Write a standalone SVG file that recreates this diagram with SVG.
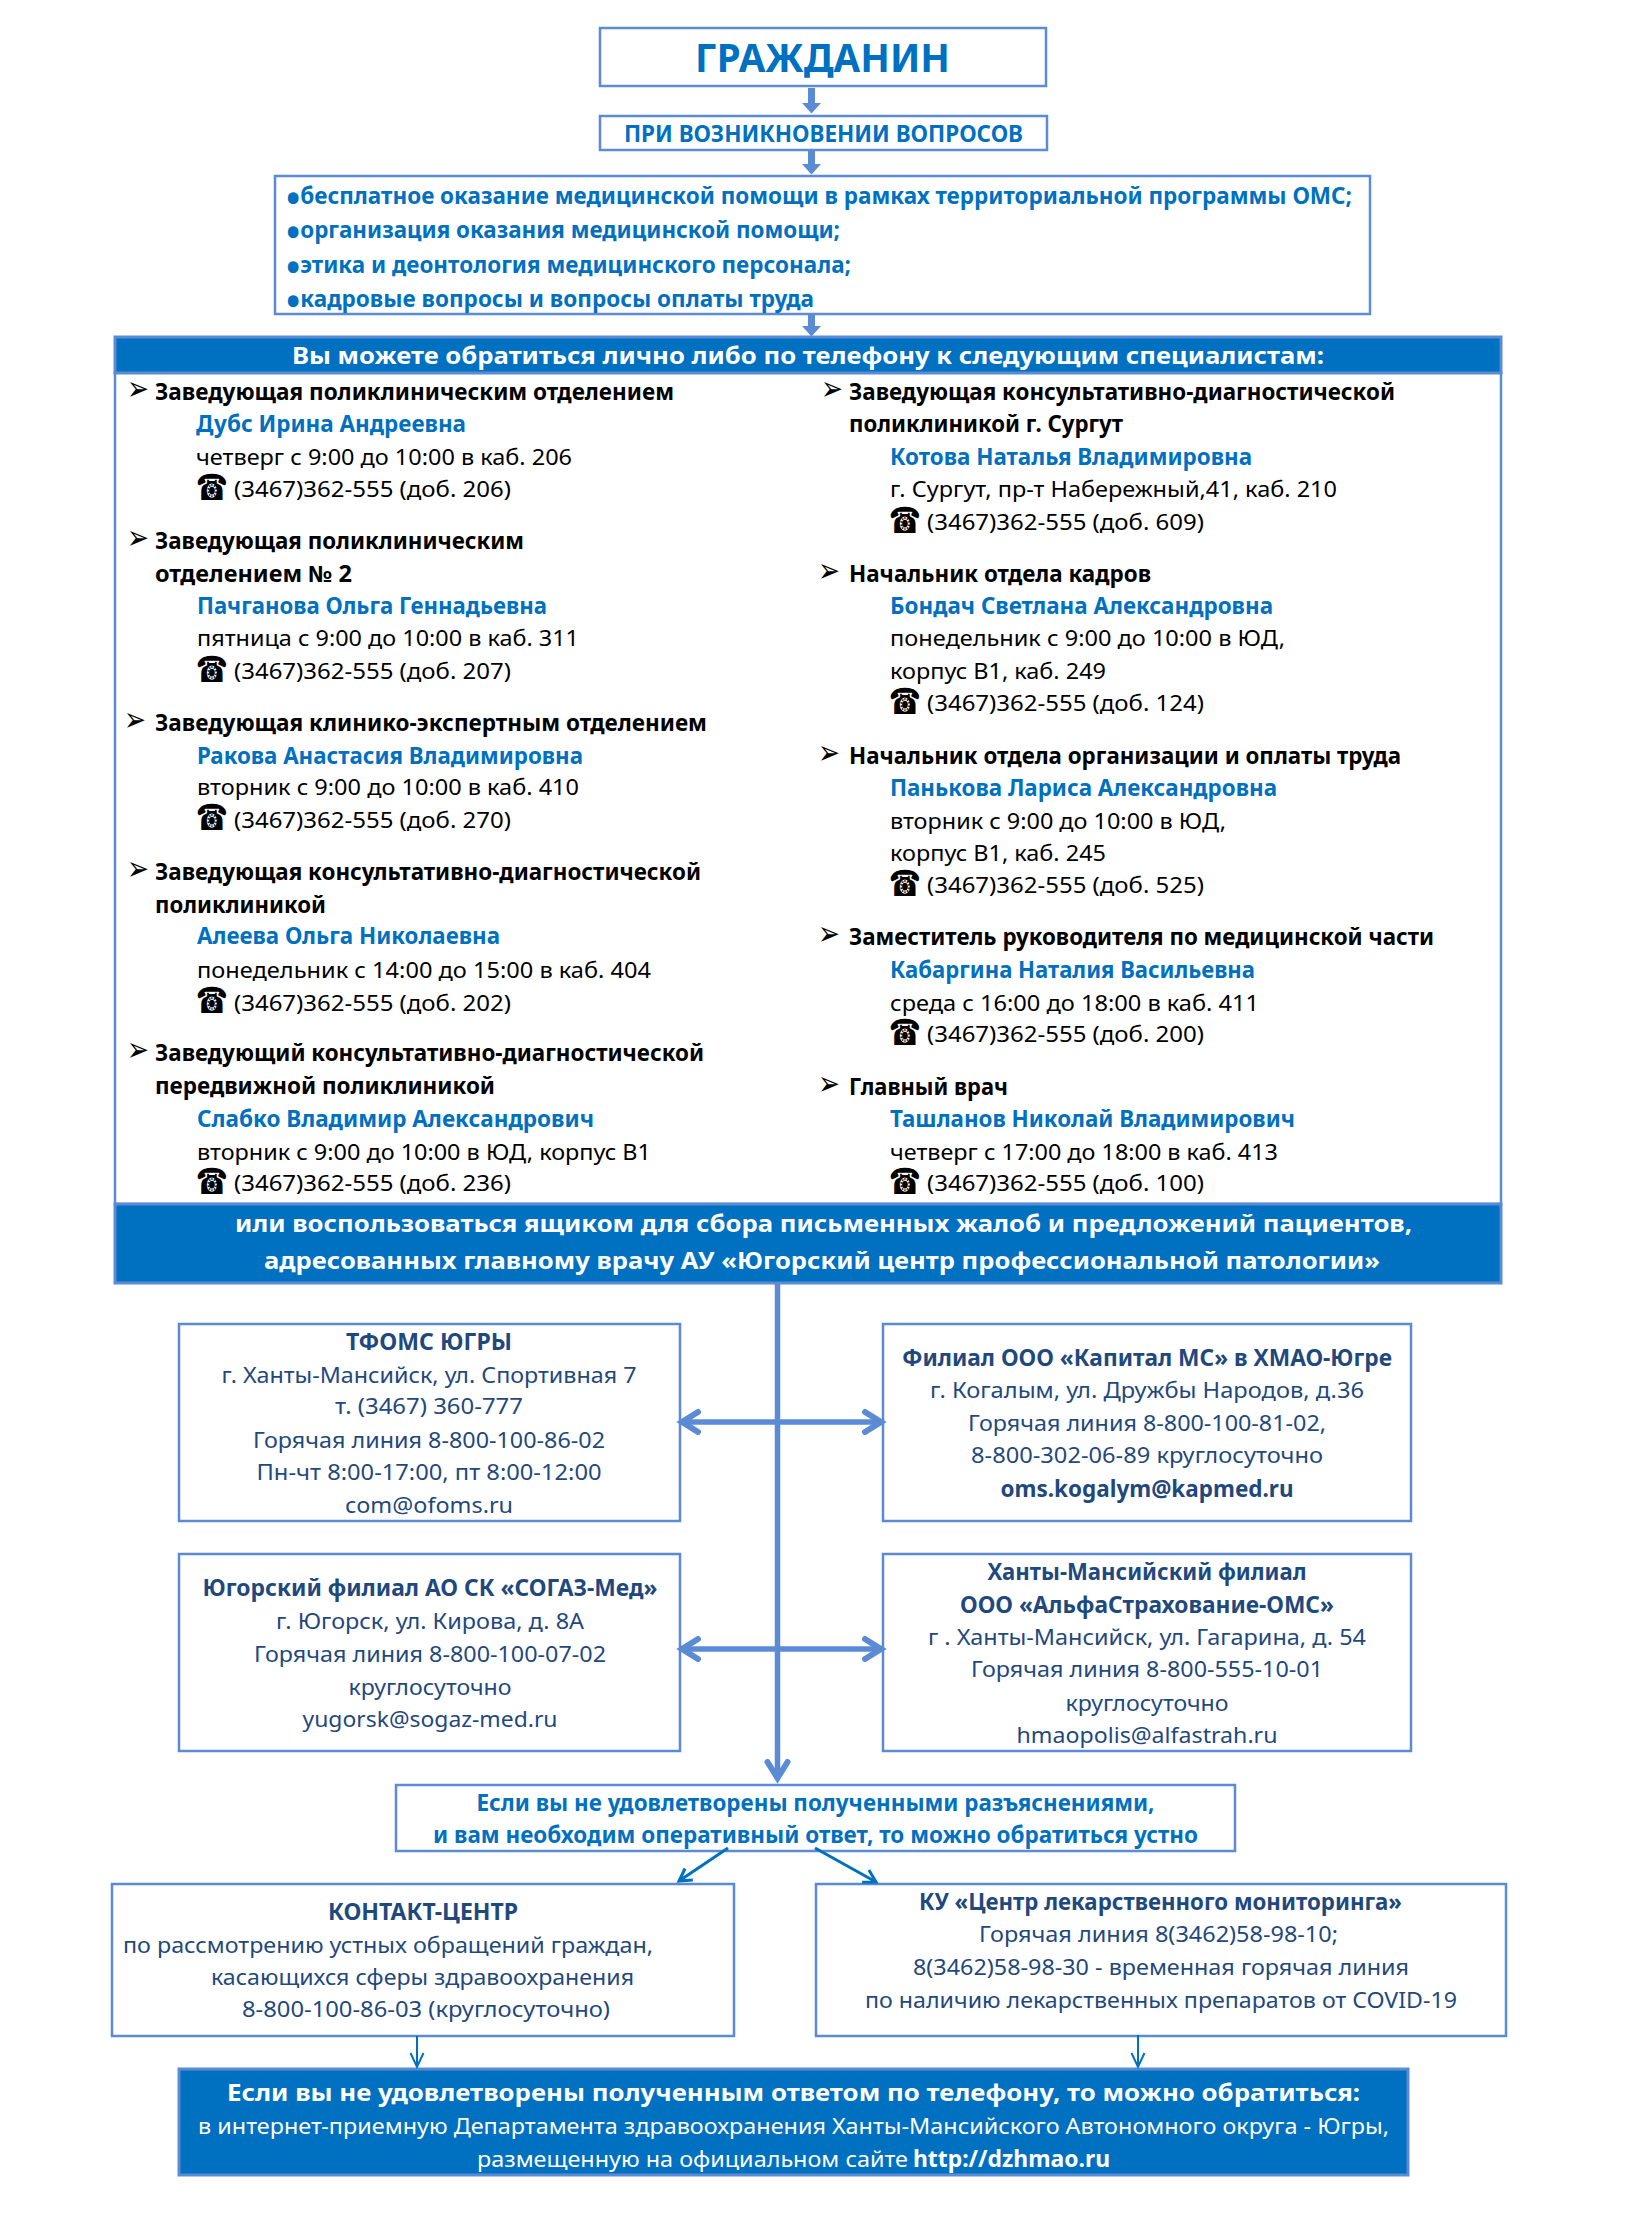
<svg xmlns="http://www.w3.org/2000/svg" width="1648" height="2220" viewBox="0 0 1648 2220">
<style>
text{font-family:"Noto Sans","Liberation Sans",sans-serif;font-size:22.5px}
.box{fill:#fff;stroke:#5B8BD4;stroke-width:2.5}
.fill{fill:#0070C0;stroke:#5B8BD4;stroke-width:3}
.b{fill:#0070C0;font-weight:700}
.h{fill:#000;font-weight:700}
.n{fill:#0070C0;font-weight:700}
.t{fill:#000}
.d{fill:#1F497D}
.db{fill:#1F497D;font-weight:700}
.w{fill:#fff;font-weight:700}
.wr{fill:#fff}
.c{text-anchor:middle}
.ph{font-family:"DejaVu Sans",sans-serif;font-size:36px;fill:#000}
.bu{font-family:"DejaVu Sans",sans-serif;font-size:34px;fill:#000}
.dot{font-size:38px}
.thick{fill:none;stroke:#5B8BD4;stroke-width:7}
.main{fill:none;stroke:#5B8BD4;stroke-width:5.5}
.thin3{fill:none;stroke:#0070C0;stroke-width:3}
.thin2{fill:none;stroke:#0070C0;stroke-width:2}
</style>
<defs>
<marker id="solid" markerUnits="userSpaceOnUse" markerWidth="20" markerHeight="20" viewBox="0 0 11 20" refX="0" refY="10" orient="auto"><path d="M0,0.5 L10.5,10 L0,19.5 z" fill="#5B8BD4"/></marker>
<marker id="chev" markerUnits="userSpaceOnUse" markerWidth="30" markerHeight="32" viewBox="0 0 30 32" refX="20" refY="16" orient="auto-start-reverse" overflow="visible"><path d="M4,6 L20,16 L4,26" fill="none" stroke="#5B8BD4" stroke-width="6" stroke-linecap="round"/></marker>
<marker id="chev3" markerUnits="userSpaceOnUse" markerWidth="20" markerHeight="24" viewBox="0 0 20 24" refX="15" refY="12" orient="auto"><path d="M3,5 L15,12 L3,19" fill="none" stroke="#0070C0" stroke-width="3"/></marker>
<marker id="chev2" markerUnits="userSpaceOnUse" markerWidth="20" markerHeight="24" viewBox="0 0 20 24" refX="16" refY="12" orient="auto"><path d="M2,5.5 L16,12 L2,18.5" fill="none" stroke="#0070C0" stroke-width="2"/></marker>
</defs>

<g id="node-citizen"><rect class="box" x="600" y="28" width="446" height="58"/><text class="b" x="695" y="72" style="font-size:39px" textLength="255" lengthAdjust="spacingAndGlyphs">ГРАЖДАНИН</text></g>
<g id="node-questions"><rect class="box" x="600" y="116" width="447" height="34"/><text class="b" x="624" y="142" textLength="399" lengthAdjust="spacingAndGlyphs">ПРИ ВОЗНИКНОВЕНИИ ВОПРОСОВ</text></g>
<g id="node-topics"><rect class="box" x="275" y="176" width="1095" height="138"/>
<text class="b" x="286" y="204" textLength="1066" lengthAdjust="spacingAndGlyphs"><tspan class="dot" dy="7.5">•</tspan><tspan dy="-7.5">бесплатное оказание медицинской помощи в рамках территориальной программы ОМС;</tspan></text>
<text class="b" x="286" y="238" textLength="554" lengthAdjust="spacingAndGlyphs"><tspan class="dot" dy="7.5">•</tspan><tspan dy="-7.5">организация оказания медицинской помощи;</tspan></text>
<text class="b" x="286" y="273" textLength="565" lengthAdjust="spacingAndGlyphs"><tspan class="dot" dy="7.5">•</tspan><tspan dy="-7.5">этика и деонтология медицинского персонала;</tspan></text>
<text class="b" x="286" y="307" textLength="528" lengthAdjust="spacingAndGlyphs"><tspan class="dot" dy="7.5">•</tspan><tspan dy="-7.5">кадровые вопросы и вопросы оплаты труда</tspan></text></g>

<g id="node-specialists">
<rect class="box" x="115" y="372" width="1386" height="832"/>
<rect class="fill" x="115" y="337" width="1386" height="36"/>
<text class="w" x="292" y="364" style="font-size:24px" textLength="1032" lengthAdjust="spacingAndGlyphs">Вы можете обратиться лично либо по телефону к следующим специалистам:</text>

<text class="bu" x="127" y="400" textLength="22" lengthAdjust="spacingAndGlyphs">➢</text>
<text class="h" x="155" y="400" textLength="519" lengthAdjust="spacingAndGlyphs">Заведующая поликлиническим отделением</text>
<text class="n" x="196" y="432" textLength="270" lengthAdjust="spacingAndGlyphs">Дубс Ирина Андреевна</text>
<text class="t" x="196" y="465" textLength="376" lengthAdjust="spacingAndGlyphs">четверг с 9:00 до 10:00 в каб. 206</text>
<text class="ph" x="196" y="500" textLength="32" lengthAdjust="spacingAndGlyphs">☎</text>
<text class="t" x="234" y="497" textLength="277" lengthAdjust="spacingAndGlyphs">(3467)362-555 (доб. 206)</text>

<text class="bu" x="127" y="549" textLength="22" lengthAdjust="spacingAndGlyphs">➢</text>
<text class="h" x="155" y="549" textLength="369" lengthAdjust="spacingAndGlyphs">Заведующая поликлиническим</text>
<text class="h" x="155" y="582" textLength="197" lengthAdjust="spacingAndGlyphs">отделением № 2</text>
<text class="n" x="197" y="614" textLength="350" lengthAdjust="spacingAndGlyphs">Пачганова Ольга Геннадьевна</text>
<text class="t" x="197" y="646" textLength="382" lengthAdjust="spacingAndGlyphs">пятница с 9:00 до 10:00 в каб. 311</text>
<text class="ph" x="196" y="682" textLength="32" lengthAdjust="spacingAndGlyphs">☎</text>
<text class="t" x="234" y="679" textLength="277" lengthAdjust="spacingAndGlyphs">(3467)362-555 (доб. 207)</text>

<text class="bu" x="124" y="731" textLength="22" lengthAdjust="spacingAndGlyphs">➢</text>
<text class="h" x="155" y="731" textLength="552" lengthAdjust="spacingAndGlyphs">Заведующая клинико-экспертным отделением</text>
<text class="n" x="197" y="764" textLength="386" lengthAdjust="spacingAndGlyphs">Ракова Анастасия Владимировна</text>
<text class="t" x="197" y="795" textLength="382" lengthAdjust="spacingAndGlyphs">вторник с 9:00 до 10:00 в каб. 410</text>
<text class="ph" x="196" y="830" textLength="32" lengthAdjust="spacingAndGlyphs">☎</text>
<text class="t" x="234" y="828" textLength="277" lengthAdjust="spacingAndGlyphs">(3467)362-555 (доб. 270)</text>

<text class="bu" x="127" y="880" textLength="22" lengthAdjust="spacingAndGlyphs">➢</text>
<text class="h" x="155" y="880" textLength="546" lengthAdjust="spacingAndGlyphs">Заведующая консультативно-диагностической</text>
<text class="h" x="155" y="913" textLength="171" lengthAdjust="spacingAndGlyphs">поликлиникой</text>
<text class="n" x="197" y="944" textLength="303" lengthAdjust="spacingAndGlyphs">Алеева Ольга Николаевна</text>
<text class="t" x="197" y="978" textLength="454" lengthAdjust="spacingAndGlyphs">понедельник с 14:00 до 15:00 в каб. 404</text>
<text class="ph" x="196" y="1013" textLength="32" lengthAdjust="spacingAndGlyphs">☎</text>
<text class="t" x="234" y="1011" textLength="277" lengthAdjust="spacingAndGlyphs">(3467)362-555 (доб. 202)</text>

<text class="bu" x="127" y="1061" textLength="22" lengthAdjust="spacingAndGlyphs">➢</text>
<text class="h" x="155" y="1061" textLength="549" lengthAdjust="spacingAndGlyphs">Заведующий консультативно-диагностической</text>
<text class="h" x="155" y="1094" textLength="340" lengthAdjust="spacingAndGlyphs">передвижной поликлиникой</text>
<text class="n" x="197" y="1127" textLength="397" lengthAdjust="spacingAndGlyphs">Слабко Владимир Александрович</text>
<text class="t" x="197" y="1160" textLength="454" lengthAdjust="spacingAndGlyphs">вторник с 9:00 до 10:00 в ЮД, корпус В1</text>
<text class="ph" x="196" y="1194" textLength="32" lengthAdjust="spacingAndGlyphs">☎</text>
<text class="t" x="234" y="1191" textLength="277" lengthAdjust="spacingAndGlyphs">(3467)362-555 (доб. 236)</text>

<text class="bu" x="821" y="400" textLength="22" lengthAdjust="spacingAndGlyphs">➢</text>
<text class="h" x="849" y="400" textLength="546" lengthAdjust="spacingAndGlyphs">Заведующая консультативно-диагностической</text>
<text class="h" x="849" y="432" textLength="274" lengthAdjust="spacingAndGlyphs">поликлиникой г. Сургут</text>
<text class="n" x="890" y="465" textLength="362" lengthAdjust="spacingAndGlyphs">Котова Наталья Владимировна</text>
<text class="t" x="890" y="497" textLength="447" lengthAdjust="spacingAndGlyphs">г. Сургут, пр-т Набережный,41, каб. 210</text>
<text class="ph" x="889" y="533" textLength="32" lengthAdjust="spacingAndGlyphs">☎</text>
<text class="t" x="927" y="530" textLength="277" lengthAdjust="spacingAndGlyphs">(3467)362-555 (доб. 609)</text>

<text class="bu" x="818" y="582" textLength="22" lengthAdjust="spacingAndGlyphs">➢</text>
<text class="h" x="849" y="582" textLength="302" lengthAdjust="spacingAndGlyphs">Начальник отдела кадров</text>
<text class="n" x="890" y="614" textLength="383" lengthAdjust="spacingAndGlyphs">Бондач Светлана Александровна</text>
<text class="t" x="890" y="646" textLength="395" lengthAdjust="spacingAndGlyphs">понедельник с 9:00 до 10:00 в ЮД,</text>
<text class="t" x="890" y="679" textLength="216" lengthAdjust="spacingAndGlyphs">корпус В1, каб. 249</text>
<text class="ph" x="889" y="714" textLength="32" lengthAdjust="spacingAndGlyphs">☎</text>
<text class="t" x="927" y="711" textLength="277" lengthAdjust="spacingAndGlyphs">(3467)362-555 (доб. 124)</text>

<text class="bu" x="818" y="764" textLength="22" lengthAdjust="spacingAndGlyphs">➢</text>
<text class="h" x="849" y="764" textLength="552" lengthAdjust="spacingAndGlyphs">Начальник отдела организации и оплаты труда</text>
<text class="n" x="890" y="796" textLength="387" lengthAdjust="spacingAndGlyphs">Панькова Лариса Александровна</text>
<text class="t" x="890" y="829" textLength="336" lengthAdjust="spacingAndGlyphs">вторник с 9:00 до 10:00 в ЮД,</text>
<text class="t" x="890" y="861" textLength="216" lengthAdjust="spacingAndGlyphs">корпус В1, каб. 245</text>
<text class="ph" x="889" y="896" textLength="32" lengthAdjust="spacingAndGlyphs">☎</text>
<text class="t" x="927" y="893" textLength="277" lengthAdjust="spacingAndGlyphs">(3467)362-555 (доб. 525)</text>

<text class="bu" x="818" y="945" textLength="22" lengthAdjust="spacingAndGlyphs">➢</text>
<text class="h" x="849" y="945" textLength="585" lengthAdjust="spacingAndGlyphs">Заместитель руководителя по медицинской части</text>
<text class="n" x="890" y="978" textLength="365" lengthAdjust="spacingAndGlyphs">Кабаргина Наталия Васильевна</text>
<text class="t" x="890" y="1011" textLength="369" lengthAdjust="spacingAndGlyphs">среда с 16:00 до 18:00 в каб. 411</text>
<text class="ph" x="889" y="1045" textLength="32" lengthAdjust="spacingAndGlyphs">☎</text>
<text class="t" x="927" y="1042" textLength="277" lengthAdjust="spacingAndGlyphs">(3467)362-555 (доб. 200)</text>

<text class="bu" x="818" y="1095" textLength="22" lengthAdjust="spacingAndGlyphs">➢</text>
<text class="h" x="849" y="1095" textLength="159" lengthAdjust="spacingAndGlyphs">Главный врач</text>
<text class="n" x="890" y="1127" textLength="405" lengthAdjust="spacingAndGlyphs">Ташланов Николай Владимирович</text>
<text class="t" x="890" y="1160" textLength="388" lengthAdjust="spacingAndGlyphs">четверг с 17:00 до 18:00 в каб. 413</text>
<text class="ph" x="889" y="1194" textLength="32" lengthAdjust="spacingAndGlyphs">☎</text>
<text class="t" x="927" y="1191" textLength="277" lengthAdjust="spacingAndGlyphs">(3467)362-555 (доб. 100)</text>
</g>

<g id="node-mailbox"><rect class="fill" x="115" y="1204" width="1386" height="79"/>
<text class="w" x="235" y="1232" style="font-size:24px" textLength="1177" lengthAdjust="spacingAndGlyphs">или воспользоваться ящиком для сбора письменных жалоб и предложений пациентов,</text>
<text class="w" x="264" y="1269" style="font-size:24px" textLength="1116" lengthAdjust="spacingAndGlyphs">адресованных главному врачу АУ «Югорский центр профессиональной патологии»</text></g>

<g id="node-tfoms"><rect class="box" x="179" y="1324" width="501" height="197"/>
<text class="db c" x="429" y="1350" textLength="166" lengthAdjust="spacingAndGlyphs">ТФОМС ЮГРЫ</text>
<text class="d c" x="429" y="1383" textLength="415" lengthAdjust="spacingAndGlyphs">г. Ханты-Мансийск, ул. Спортивная 7</text>
<text class="d c" x="429" y="1414" textLength="188" lengthAdjust="spacingAndGlyphs">т. (3467) 360-777</text>
<text class="d c" x="429" y="1448" textLength="352" lengthAdjust="spacingAndGlyphs">Горячая линия 8-800-100-86-02</text>
<text class="d c" x="429" y="1480" textLength="345" lengthAdjust="spacingAndGlyphs">Пн-чт 8:00-17:00, пт 8:00-12:00</text>
<text class="d c" x="429" y="1513" textLength="168" lengthAdjust="spacingAndGlyphs">com@ofoms.ru</text></g>

<g id="node-kapital"><rect class="box" x="883" y="1324" width="528" height="197"/>
<text class="db c" x="1147" y="1366" textLength="490" lengthAdjust="spacingAndGlyphs">Филиал ООО «Капитал МС» в ХМАО-Югре</text>
<text class="d c" x="1147" y="1398" textLength="434" lengthAdjust="spacingAndGlyphs">г. Когалым, ул. Дружбы Народов, д.36</text>
<text class="d c" x="1147" y="1431" textLength="358" lengthAdjust="spacingAndGlyphs">Горячая линия 8-800-100-81-02,</text>
<text class="d c" x="1147" y="1463" textLength="352" lengthAdjust="spacingAndGlyphs">8-800-302-06-89 круглосуточно</text>
<text class="db c" x="1147" y="1497" textLength="293" lengthAdjust="spacingAndGlyphs">oms.kogalym@kapmed.ru</text></g>

<g id="node-sogaz"><rect class="box" x="179" y="1554" width="501" height="197"/>
<text class="db c" x="430" y="1596" textLength="455" lengthAdjust="spacingAndGlyphs">Югорский филиал АО СК «СОГАЗ-Мед»</text>
<text class="d c" x="430" y="1629" textLength="308" lengthAdjust="spacingAndGlyphs">г. Югорск, ул. Кирова, д. 8А</text>
<text class="d c" x="430" y="1662" textLength="352" lengthAdjust="spacingAndGlyphs">Горячая линия 8-800-100-07-02</text>
<text class="d c" x="430" y="1695" textLength="163" lengthAdjust="spacingAndGlyphs">круглосуточно</text>
<text class="d c" x="430" y="1727" textLength="255" lengthAdjust="spacingAndGlyphs">yugorsk@sogaz-med.ru</text></g>

<g id="node-alfa"><rect class="box" x="883" y="1554" width="528" height="197"/>
<text class="db c" x="1147" y="1580" textLength="319" lengthAdjust="spacingAndGlyphs">Ханты-Мансийский филиал</text>
<text class="db c" x="1147" y="1613" textLength="374" lengthAdjust="spacingAndGlyphs">ООО «АльфаСтрахование-ОМС»</text>
<text class="d c" x="1147" y="1645" textLength="438" lengthAdjust="spacingAndGlyphs">г . Ханты-Мансийск, ул. Гагарина, д. 54</text>
<text class="d c" x="1147" y="1677" textLength="352" lengthAdjust="spacingAndGlyphs">Горячая линия 8-800-555-10-01</text>
<text class="d c" x="1147" y="1711" textLength="163" lengthAdjust="spacingAndGlyphs">круглосуточно</text>
<text class="d c" x="1147" y="1743" textLength="261" lengthAdjust="spacingAndGlyphs">hmaopolis@alfastrah.ru</text></g>

<g id="node-oral"><rect class="box" x="396" y="1785" width="839" height="66"/>
<text class="b" x="476.5" y="1811" textLength="678" lengthAdjust="spacingAndGlyphs">Если вы не удовлетворены полученными разъяснениями,</text>
<text class="b" x="433" y="1843" textLength="765" lengthAdjust="spacingAndGlyphs">и вам необходим оперативный ответ, то можно обратиться устно</text></g>

<g id="node-contact"><rect class="box" x="112" y="1884" width="622" height="152"/>
<text class="db" x="328" y="1920" textLength="190" lengthAdjust="spacingAndGlyphs">КОНТАКТ-ЦЕНТР</text>
<text class="d" x="123" y="1953" textLength="530" lengthAdjust="spacingAndGlyphs">по рассмотрению устных обращений граждан,</text>
<text class="d" x="211" y="1985" textLength="423" lengthAdjust="spacingAndGlyphs">касающихся сферы здравоохранения</text>
<text class="d" x="242" y="2017" textLength="368" lengthAdjust="spacingAndGlyphs">8-800-100-86-03 (круглосуточно)</text></g>

<g id="node-drug"><rect class="box" x="816" y="1884" width="690" height="152"/>
<text class="db" x="919" y="1910" textLength="483" lengthAdjust="spacingAndGlyphs">КУ «Центр лекарственного мониторинга»</text>
<text class="d" x="979" y="1942" textLength="359" lengthAdjust="spacingAndGlyphs">Горячая линия 8(3462)58-98-10;</text>
<text class="d" x="913" y="1975" textLength="496" lengthAdjust="spacingAndGlyphs">8(3462)58-98-30 - временная горячая линия</text>
<text class="d" x="865" y="2008" textLength="592" lengthAdjust="spacingAndGlyphs">по наличию лекарственных препаратов от COVID-19</text></g>

<g id="node-internet"><rect class="fill" x="179" y="2069" width="1229" height="106"/>
<text class="w" x="227" y="2101" style="font-size:24px" textLength="1133" lengthAdjust="spacingAndGlyphs">Если вы не удовлетворены полученным ответом по телефону, то можно обратиться:</text>
<text class="wr" x="198" y="2134" textLength="1191" lengthAdjust="spacingAndGlyphs">в интернет-приемную Департамента здравоохранения Ханты-Мансийского Автономного округа - Югры,</text>
<text class="wr" x="477" y="2167" textLength="431" lengthAdjust="spacingAndGlyphs">размещенную на официальном сайте</text>
<text class="w" x="913" y="2167" style="font-size:22.5px" textLength="197" lengthAdjust="spacingAndGlyphs">http://dzhmao.ru</text></g>

<g id="connectors">
<line class="thick" x1="811.5" y1="88" x2="811.5" y2="103" marker-end="url(#solid)"/>
<line class="thick" x1="811.5" y1="151" x2="811.5" y2="164" marker-end="url(#solid)"/>
<line class="thick" x1="811.5" y1="315" x2="811.5" y2="326" marker-end="url(#solid)"/>
<line class="main" x1="777.5" y1="1283" x2="777.5" y2="1778" marker-end="url(#chev)"/>
<line class="main" x1="682" y1="1422" x2="881" y2="1422" marker-start="url(#chev)" marker-end="url(#chev)"/>
<line class="main" x1="682" y1="1649" x2="881" y2="1649" marker-start="url(#chev)" marker-end="url(#chev)"/>
<line class="thin3" x1="728" y1="1848" x2="679" y2="1881" marker-end="url(#chev3)"/>
<line class="thin3" x1="815" y1="1848" x2="876" y2="1882" marker-end="url(#chev3)"/>
<line class="thin2" x1="417" y1="2036" x2="417" y2="2067" marker-end="url(#chev2)"/>
<line class="thin2" x1="1138" y1="2035" x2="1138" y2="2067" marker-end="url(#chev2)"/>
</g>
</svg>
